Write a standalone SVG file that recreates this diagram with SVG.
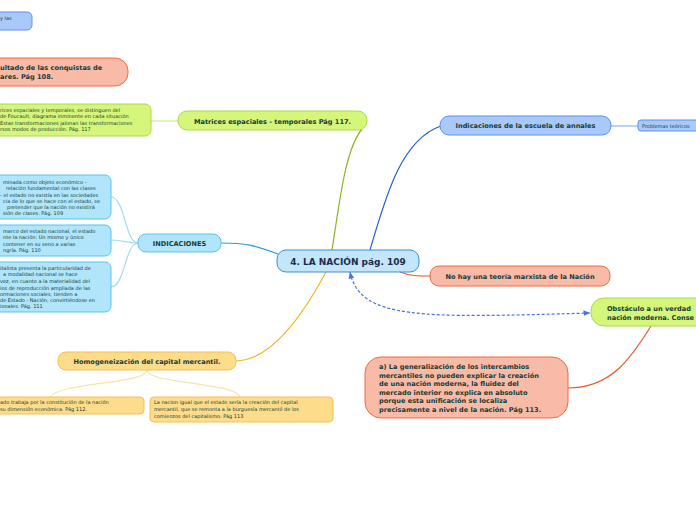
<svg xmlns="http://www.w3.org/2000/svg" width="696" height="520" viewBox="0 0 696 520">
<defs>
<style>
text{font-family:"DejaVu Sans","Verdana","Liberation Sans",sans-serif;fill:#173d33}
.b{font-weight:bold}
.t7{font-size:6.6px}
.t5{font-size:5px}
.blue{fill:#a9c9fb;stroke:#5b92ee;stroke-width:1}
.red{fill:#f9bba8;stroke:#f2693c;stroke-width:1}
.green{fill:#d5f67b;stroke:#a6dc48;stroke-width:1}
.cyan{fill:#b0e5fb;stroke:#5cc3ee;stroke-width:1}
.yel{fill:#fddc8c;stroke:#f5c150;stroke-width:1}
.c{fill:none;stroke-width:1.2}
</style>
<marker id="ah" viewBox="0 0 10 10" refX="9" refY="5" markerWidth="6" markerHeight="6" orient="auto-start-reverse">
<path d="M0,1 L9,5 L0,9 z" fill="#4a72e2"/>
</marker>
</defs>
<rect width="696" height="520" fill="#ffffff"/>

<g id="connectors">
<path class="c" d="M332,250 C340,200 345,150 362,129" stroke="#8db52a"/>
<path class="c" d="M178,121 L151,121" stroke="#c8ec8a"/>
<path class="c" d="M370,250 C385,200 400,140 441,126" stroke="#1f5fd3" stroke-width="1.4"/>
<path class="c" d="M611,126 L638,126" stroke="#8eb4f4"/>
<path class="c" d="M278,254 C255,245 245,243 221,243" stroke="#2a9ee0" stroke-width="1.4"/>
<path class="c" d="M138,243 C125,243 125,197 111,197" stroke="#9fdcf6" stroke-width="0.8"/>
<path class="c" d="M138,243 C125,243 125,240 111,240" stroke="#9fdcf6" stroke-width="0.8"/>
<path class="c" d="M138,243 C125,243 125,287 111,287" stroke="#9fdcf6" stroke-width="0.8"/>
<path class="c" d="M400,272 C410,276 418,276 430,276" stroke="#ec5a24" stroke-width="1.4"/>
<path class="c" d="M326,272 C300,320 270,360 236,361" stroke="#f3b520" stroke-width="1.4"/>
<path class="c" d="M147,370 C147,384 60,382 50,397" stroke="#fbe3a6" stroke-width="0.8"/>
<path class="c" d="M147,370 C147,384 235,382 240,397" stroke="#fbe3a6" stroke-width="0.8"/>
<path class="c" d="M350,272 C360,320 420,318 590,313" stroke="#4a72e2" stroke-width="0.9" stroke-dasharray="3,2" marker-start="url(#ah)" marker-end="url(#ah)"/>
<path class="c" d="M651,326 C630,360 610,388 568,388" stroke="#ec5a24" stroke-width="1.3"/>
</g>

<g id="n-toplabel">
<rect class="blue" x="-10" y="12" width="42" height="18" rx="5"/>
<text class="t5" x="0" y="20">y las</text>
</g>

<g id="n-resultado">
<rect class="red" x="-20" y="58" width="148" height="28" rx="13"/>
<text class="b t7" x="0" y="70">ultado de las conquistas de</text>
<text class="b t7" x="0" y="79">ares. Pág 108.</text>
</g>

<g id="n-matrices-text">
<rect class="green" x="-20" y="104" width="171" height="32" rx="6"/>
<text class="t5" x="0" y="112">rices espaciales y temporales, se distinguen del</text>
<text class="t5" x="0" y="118">de Foucault, diagrama inminente en cada situación</text>
<text class="t5" x="0" y="125">Estas transformaciones jalonan las transformaciones</text>
<text class="t5" x="0" y="131">rsos modos de producción. Pág. 117</text>
</g>

<g id="n-matrices">
<rect class="green" x="178" y="111" width="189" height="19" rx="9" stroke="#8cc43a"/>
<text class="b t7" x="272.500" y="123.500" text-anchor="middle">Matrices espaciales - temporales Pág 117.</text>
</g>

<g id="n-ind1">
<rect class="cyan" x="-20" y="175" width="131" height="44" rx="6"/>
<text class="t5" x="3" y="184">minada como objeto económico -</text>
<text class="t5" x="6" y="190">relación fundamental con las clases</text>
<text class="t5" x="0" y="197">- el estado no existía en las sociedades</text>
<text class="t5" x="3" y="203">cia de lo que se hace con el estado, se</text>
<text class="t5" x="7" y="209">pretender que la nación no existirá</text>
<text class="t5" x="3" y="215">sión de clases. Pág. 109</text>
</g>

<g id="n-ind2">
<rect class="cyan" x="-20" y="225" width="131" height="31" rx="6"/>
<text class="t5" x="3" y="233">marco del estado nacional, el estado</text>
<text class="t5" x="3" y="239">nte la nación: Un mismo y único</text>
<text class="t5" x="3" y="246">contener en su seno a varias</text>
<text class="t5" x="3" y="252">ngría. Pág. 110</text>
</g>

<g id="n-ind3">
<rect class="cyan" x="-20" y="262" width="131" height="50" rx="6"/>
<text class="t5" x="0" y="270">italista presenta la particularidad de</text>
<text class="t5" x="3" y="276">a modalidad nacional se hace</text>
<text class="t5" x="0" y="283">vez, en cuanto a la materialidad del</text>
<text class="t5" x="0" y="290">ios de reproducción ampliada de las</text>
<text class="t5" x="0" y="296">ormaciones sociales, tienden a</text>
<text class="t5" x="0" y="302">de Estado -  Nación, convirtiéndose en</text>
<text class="t5" x="0" y="308">ionales. Pág. 111</text>
</g>

<g id="n-indicaciones">
<rect class="cyan" x="138" y="234" width="83" height="18" rx="8" stroke="#3fb2ea"/>
<text class="b t7" x="179.500" y="245.500" text-anchor="middle">INDICACIONES</text>
</g>

<g id="n-center">
<rect x="277" y="250" width="142" height="22" rx="9" fill="#c4e6fa" stroke="#3c8ed4"/>
<text class="b" x="348" y="264.500" text-anchor="middle" style="font-size:9px;fill:#1c2c50">4. LA NACIÓN pág. 109</text>
</g>

<g id="n-annales">
<rect class="blue" x="440" y="116" width="171" height="19" rx="9" stroke="#2f6fe0"/>
<text class="b t7" x="525.500" y="128" text-anchor="middle">Indicaciones de la escuela de annales</text>
</g>

<g id="n-problemas">
<rect class="blue" x="638" y="120" width="70" height="11" rx="3"/>
<text class="t5" x="642" y="128">Problemas teóricos</text>
</g>

<g id="n-nohay">
<rect class="red" x="430" y="266" width="180" height="20" rx="9"/>
<text class="b t7" x="520" y="278.500" text-anchor="middle">No hay una teoría marxista de la Nación</text>
</g>

<g id="n-obstaculo">
<rect class="green" x="591" y="298" width="120" height="28" rx="13" stroke="#8cc43a"/>
<text class="b t7" x="607" y="311">Obstáculo a un verdad</text>
<text class="b t7" x="607" y="320">nación moderna. Conse</text>
</g>

<g id="n-generalizacion">
<rect class="red" x="365" y="357" width="203" height="61" rx="16"/>
<text class="b t7" x="379" y="369">a) La generalización de los intercambios</text>
<text class="b t7" x="379" y="378">mercantiles no pueden explicar la creación</text>
<text class="b t7" x="379" y="386">de una nación moderna, la fluidez del</text>
<text class="b t7" x="379" y="394.500">mercado interior no explica en absoluto</text>
<text class="b t7" x="379" y="403">porque esta unificación se localiza</text>
<text class="b t7" x="379" y="412">precisamente a nivel de la nación. Pág 113.</text>
</g>

<g id="n-homogeneizacion">
<rect class="yel" x="58" y="352" width="178" height="18" rx="8"/>
<text class="b t7" x="147" y="363.500" text-anchor="middle">Homogeneización del capital mercantil.</text>
</g>

<g id="n-homo1">
<rect class="yel" x="-20" y="397" width="164" height="17" rx="4"/>
<text class="t5" x="0" y="404">ado trabaja por la constitución de la nación</text>
<text class="t5" x="0" y="411">su dimensión económica. Pág 112.</text>
</g>

<g id="n-homo2">
<rect class="yel" x="150" y="397" width="183" height="25" rx="4"/>
<text class="t5" x="154" y="404">La nacion igual que el estado sería la creación del capital</text>
<text class="t5" x="154" y="411">mercantil, que se remonta a la burguesía mercantil de los</text>
<text class="t5" x="154" y="418">comienzos del capitalismo. Pág 113</text>
</g>
</svg>
